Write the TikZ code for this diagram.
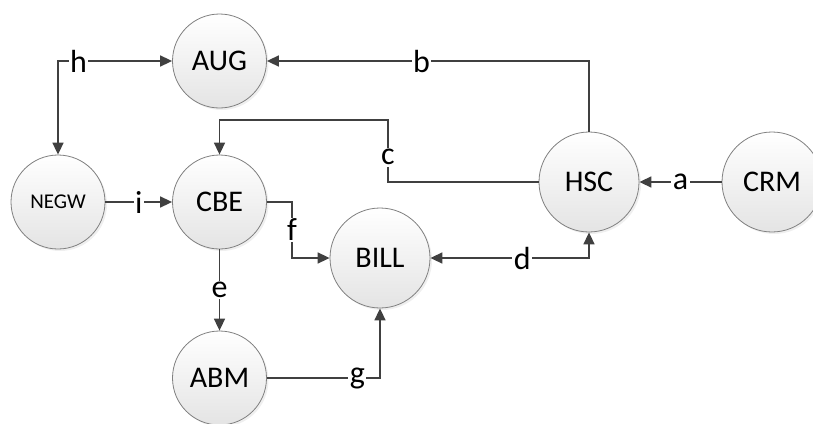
\documentclass[tikz,border=0pt]{standalone}
\usepackage{fontspec}
\setmainfont{Carlito}
\usetikzlibrary{arrows.meta,shadows}
\definecolor{linec}{HTML}{404040}
\definecolor{circb}{HTML}{808080}
\definecolor{circf}{HTML}{E4E4E4}
\begin{document}
\begin{tikzpicture}[x=1pt,y=-1pt,
  circ/.style={circle, draw=circb, line width=0.8pt, minimum size=94pt, inner sep=0pt,
    top color=white, bottom color=circf,
    drop shadow={shadow xshift=2pt, shadow yshift=-2pt, fill=black!12},
    font=\fontsize{30}{32}\selectfont},
  big/.style={minimum size=100pt},
  conn/.style={draw=linec, line width=1.6pt},
  arr/.style={conn, -{Triangle[length=12pt,width=11pt]}},
  arrtwo/.style={conn, {Triangle[length=12pt,width=11pt]}-{Triangle[length=12pt,width=11pt]}},
  lbl/.style={fill=white, inner sep=1.5pt, text=black, font=\fontsize{32}{34}\selectfont}]
\useasboundingbox (0,0) rectangle (813,423);
\node[circ] (AUG) at (219.5,61) {AUG};
\node[circ, font=\fontsize{21}{23}\selectfont] (NEGW) at (58,202) {NEGW};
\node[circ] (CBE) at (219.5,202) {CBE};
\node[circ] (ABM) at (219.5,378) {ABM};
\node[circ, big] (BILL) at (380,258) {BILL};
\node[circ, big] (HSC) at (589,182) {HSC};
\node[circ, big] (CRM) at (772,182) {CRM};
\coordinate (c1) at (388,182);
\coordinate (c2) at (388,120);
\coordinate (f1) at (292,202);
% h
\draw[arrtwo] (AUG.west) -| node[lbl, pos=0.41] {h} (NEGW.north);
% b
\draw[arr] (HSC.north) |- node[lbl, pos=0.76] {b} (AUG.east);
% c
\draw[arr] (HSC.west) -- (c1) -- node[lbl, pos=0.4] {c} (c2) -| (CBE.north);
% a
\draw[arr] (CRM) -- node[lbl] {a} (HSC);
% i
\draw[arr] (NEGW) -- node[lbl] {i} (CBE);
% f
\draw[arr] (CBE.east) -- (f1) |- node[lbl, pos=0.25] {f} (BILL.west);
% e
\draw[arr] (CBE) -- node[lbl] {e} (ABM);
% g
\draw[arr] (ABM.east) -| node[lbl, pos=0.4] {g} (BILL.south);
% d
\draw[arrtwo] (BILL.east) -| node[lbl, pos=0.29] {d} (HSC.south);
\end{tikzpicture}
\end{document}
